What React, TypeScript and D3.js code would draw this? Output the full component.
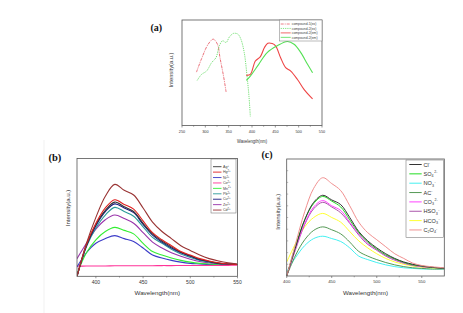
import React from "react";
import * as d3 from "d3";

// ---------- Panel (a) data ----------
const aTicks = [250, 300, 350, 400, 450, 500, 550];
const aC1exX = [281, 292, 306, 317, 326, 331.5, 339, 344.5];
const aC1exY = [50.6, 63.4, 77, 81.8, 77, 64, 46.8, 31.8];
const aC2exX = [282.5, 291.8, 302.6, 313.5, 322.8, 330, 337, 344.5, 351.7, 360.3, 369.7, 376.2, 383.4, 389, 393.5, 396.4];
const aC2exY = [42.7, 48.4, 51.6, 59.6, 64.3, 75.5, 80.3, 78.7, 84, 87.3, 86.6, 81.8, 69, 48.4, 27.7, 8.6];
const aC2emRX = [387.7, 396.4, 407.2, 418, 426.7, 433.9, 443.3, 450.5, 461.3, 472.1, 483, 497.4, 511.8, 529.8];
const aC2emRY = [47.5, 48.4, 61.1, 65.3, 73.9, 78, 77.7, 75.5, 64.3, 54.8, 51.6, 43.6, 34, 25.2];
const aC2emGX = [387.7, 396.4, 414.4, 432.5, 454.1, 475.8, 490.2, 504.6, 519, 529.8];
const aC2emGY = [42.7, 46.8, 58, 69.1, 75.5, 79.6, 77, 69.1, 58, 50];
const aLegend = ["compound-1(ex)", "compound-2(ex)", "compound-2(em)", "compound-2(em)"];

// ---------- Panel (b) data ----------
const bTicks = [400, 450, 500, 550];
const bWave = [380, 390, 400, 410, 420, 430, 440, 450, 460, 470, 480, 490, 500, 510, 520, 530, 540, 550];
const bAg = [0, 26, 44, 56, 63, 59, 55, 45, 36, 30, 25, 20.5, 17.5, 14.5, 12.5, 11, 10.5, 10];
const bHg = [0, 27, 45, 58, 65, 61, 57, 47, 37, 31, 26, 21, 18, 15, 13, 11.5, 10.5, 10];
const bNi = [8, 20, 28, 32, 34.5, 32, 29.5, 24, 18, 15.5, 13.5, 12, 11, 10.5, 10, 10, 10, 10];
const bCo = [8.6, 8.7, 8.8, 8.8, 8.9, 8.9, 9, 9, 9, 9.1, 9.1, 9.2, 9.2, 9.2, 9.3, 9.3, 9.3, 9.4];
const bMn = [2, 20, 31, 38, 41.5, 39, 36, 28, 21, 18, 15.5, 13.5, 12, 11, 10.5, 10, 10, 10];
const bPb = [0, 25, 41, 52, 58.5, 55, 51, 42, 33, 28, 23, 19, 16, 13.5, 12, 11, 10.5, 10];
const bCu = [0, 26, 43, 55, 61.5, 58, 54, 44, 35, 29, 24, 20, 17, 14, 12.5, 11, 10.5, 10];
const bZn = [15, 28, 40, 48, 52, 49, 45, 37, 29, 24, 20, 17, 14.5, 12.5, 11.5, 10.5, 10, 10];
const bCd = [0, 28, 50, 68, 78, 73, 69, 58, 46, 38, 32, 26, 22, 18, 15, 13, 11.5, 10.5];
const bIons = ["Ag", "Hg", "Ni", "Co", "Mn", "Pb", "Cu", "Zn", "Cd"];
const bCharges = ["+", "2+", "2+", "2+", "2+", "2+", "2+", "2+", "2+"];

// ---------- Panel (c) data ----------
const cTicks = [400, 450, 500, 550];
const cWave = [400, 410, 420, 430, 440, 450, 460, 470, 480, 490, 500, 510, 520, 530, 540, 550, 560, 575];
const cCl = [0, 25, 48, 63, 69, 65, 61, 50, 38, 30, 24, 19, 15, 12, 10, 8.5, 7.5, 6.5];
const cSO4 = [0, 26, 48, 62, 68, 64, 59, 48, 37, 29, 23, 18, 14.5, 11.5, 9.5, 8.5, 7.5, 6.5];
const cNO3 = [4, 16, 26, 32, 34, 32, 29.5, 24, 17, 14, 11.5, 9.5, 8, 7, 6.5, 6, 6, 6];
const cAC = [0, 18, 31, 39, 42, 39.5, 36, 29, 21, 17, 14, 11.5, 9.5, 8, 7, 6.5, 6, 6];
const cCO3 = [0, 24, 45, 59, 64.5, 60, 56, 46, 36, 28, 22.5, 17.5, 14, 11, 9.5, 8, 7.5, 6.5];
const cHSO3 = [0, 23, 44, 57.5, 63, 59, 54, 45, 35, 27, 22, 17, 13.5, 11, 9, 8, 7.5, 6.5];
const cHCO3 = [12, 28, 42, 50, 53.5, 50, 46, 38, 30, 24, 19, 15, 12, 10, 8.5, 7.5, 7, 6.5];
const cC2O4 = [0, 28, 55, 75, 84, 79, 73, 60, 46, 37, 31, 25, 19, 15, 11, 9, 8, 7];
// [base, subscript, superscript]
const cAnions: [string, string, string][] = [
  ["Cl", "", "-"], ["SO", "4", "2-"], ["NO", "3", "-"], ["AC", "", "-"],
  ["CO", "3", "2-"], ["HSO", "3", "-"], ["HCO", "3", "-"], ["C", "2", ""],
];

const SANS = "'Liberation Sans', Arial, sans-serif";
const SERIF = "'Liberation Serif', 'Times New Roman', serif";

type Series = { xs: number[]; ys: number[]; color: string; width: number; dash?: string };

function Panel(props: {
  x0: number; x1: number; y0: number; y1: number;
  domain: [number, number]; ticks: number[]; minor: number[];
  series: Series[]; tickFont: number; xLabel: { y: number; len: number; font: number };
  yLabel: { x: number; cy: number; len: number; font: number };
  title: { text: string; x: number; y: number; font: number };
  yTicks?: number[];
  children?: React.ReactNode;
}) {
  const { x0, x1, y0, y1, domain, ticks, minor, series } = props;
  const x = d3.scaleLinear().domain(domain).range([x0, x1]);
  const y = d3.scaleLinear().domain([0, 100]).range([y1, y0]);
  const line = d3.line<[number, number]>()
    .x((d) => x(d[0]))
    .y((d) => y(d[1]))
    .curve(d3.curveCatmullRom.alpha(0.5));
  const id = "clip" + props.title.text.replace(/[()]/g, "");
  return (
    <g>
      <defs>
        <clipPath id={id}>
          <rect x={x0} y={y0} width={x1 - x0} height={y1 - y0} />
        </clipPath>
      </defs>
      <g clipPath={`url(#${id})`}>
        {series.map((s, i) => (
          <path key={i} d={line(s.xs.map((v, j) => [v, s.ys[j]]) as [number, number][]) || ""}
            fill="none" stroke={s.color} strokeWidth={s.width} strokeDasharray={s.dash}
            strokeLinejoin="round" />
        ))}
      </g>
      <rect x={x0} y={y0} width={x1 - x0} height={y1 - y0} fill="none" stroke="#555" strokeWidth={0.8} />
      {ticks.map((t) => (
        <g key={"t" + t}>
          <line x1={x(t)} x2={x(t)} y1={y1} y2={y1 + 2} stroke="#555" strokeWidth={0.6} />
          <text x={x(t)} y={y1 + 4 + props.tickFont * 0.8} fontSize={props.tickFont} fontFamily={SANS}
            textAnchor="middle" fill="#333">{t}</text>
        </g>
      ))}
      {minor.map((t) => (
        <line key={"m" + t} x1={x(t)} x2={x(t)} y1={y1} y2={y1 + 1.3} stroke="#555" strokeWidth={0.5} />
      ))}
      {(props.yTicks || []).map((t) => (
        <line key={"y" + t} x1={x0} x2={x0 + 1.5} y1={y(t)} y2={y(t)} stroke="#777" strokeWidth={0.5} />
      ))}
      <text x={(x0 + x1) / 2} y={props.xLabel.y} fontSize={props.xLabel.font} fontFamily={SANS}
        textAnchor="middle" fill="#333" textLength={props.xLabel.len} lengthAdjust="spacingAndGlyphs">
        Wavelength(nm)
      </text>
      <text transform={`translate(${props.yLabel.x},${props.yLabel.cy}) rotate(-90)`}
        fontSize={props.yLabel.font} fontFamily={SANS} textAnchor="middle" fill="#333"
        textLength={props.yLabel.len} lengthAdjust="spacingAndGlyphs">
        Intensity(a.u.)
      </text>
      <text x={props.title.x} y={props.title.y} fontSize={props.title.font} fontFamily={SERIF}
        fontWeight="bold" fill="#111">{props.title.text}</text>
      {props.children}
    </g>
  );
}

export default function App() {
  const aSeries: Series[] = [
    { xs: aC1exX, ys: aC1exY, color: "#e8606a", width: 0.9, dash: "3,1,1,1" },
    { xs: aC2exX, ys: aC2exY, color: "#66dd66", width: 0.9, dash: "1.2,1" },
    { xs: aC2emRX, ys: aC2emRY, color: "#ee4444", width: 1.1 },
    { xs: aC2emGX, ys: aC2emGY, color: "#55e055", width: 1.1 },
  ];
  const aLegendStyle = aSeries;

  const bColors = ["#333333", "#e02020", "#3b3bc8", "#ff3399", "#33ee33", "#2a9a9a", "#1a1a80", "#9933aa", "#993333"];
  const bData = [bAg, bHg, bNi, bCo, bMn, bPb, bCu, bZn, bCd];
  const bSeries: Series[] = bData.map((ys, i) => ({ xs: bWave, ys, color: bColors[i], width: 1.1 }));
  const bDrawOrder = [3, 2, 4, 7, 5, 6, 0, 1, 8];

  const cColors = ["#333333", "#22dd22", "#44f0f0", "#559955", "#ff44ff", "#aa55aa", "#ffff33", "#f09090"];
  const cData = [cCl, cSO4, cNO3, cAC, cCO3, cHSO3, cHCO3, cC2O4];
  const cSeries: Series[] = cData.map((ys, i) => ({ xs: cWave, ys, color: cColors[i], width: 1 }));
  const cDrawOrder = [2, 3, 6, 5, 4, 1, 0, 7];

  return (
    <svg width={463} height={313} style={{ position: "absolute", left: 0, top: 0, background: "#fff" }}>
      <rect x={0} y={0} width={463} height={313} fill="#fff" />
      <line x1={44} x2={44} y1={140} y2={313} stroke="#eee" strokeWidth={0.8} />

      {/* Panel (a) */}
      <Panel x0={182} x1={322} y0={20} y1={125.5} domain={[250, 550]} ticks={aTicks}
        minor={[275, 325, 375, 425, 475, 525]} series={aSeries} tickFont={3.8}
        xLabel={{ y: 142.5, len: 30, font: 4.6 }}
        yLabel={{ x: 172.5, cy: 70, len: 35, font: 4.8 }}
        title={{ text: "(a)", x: 150.5, y: 31, font: 10 }}>
        <rect x={279.3} y={20} width={42.7} height={21} fill="#fff" stroke="#777" strokeWidth={0.5} />
        {aLegend.map((t, i) => (
          <g key={i}>
            <line x1={280.7} x2={290.7} y1={24 + i * 4.45} y2={24 + i * 4.45}
              stroke={aLegendStyle[i].color} strokeWidth={0.8} strokeDasharray={aLegendStyle[i].dash} />
            <text x={291.7} y={24 + i * 4.45 + 1.2} fontSize={3.4} fontFamily={SANS} fill="#444">{t}</text>
          </g>
        ))}
      </Panel>

      {/* Panel (b) */}
      <Panel x0={77} x1={237.5} y0={158.5} y1={276.3} domain={[380, 550]} ticks={bTicks}
        minor={[425, 475, 525]} series={bDrawOrder.map((i) => bSeries[i])} tickFont={5}
        xLabel={{ y: 295, len: 45.5, font: 6.2 }}
        yLabel={{ x: 70, cy: 208, len: 36.5, font: 5.6 }}
        title={{ text: "(b)", x: 48.5, y: 161, font: 10.5 }}>
        <rect x={211} y={159} width={25} height={54} fill="#fff" stroke="#666" strokeWidth={0.5} />
        {bIons.map((t, i) => (
          <g key={i}>
            <line x1={213} x2={221.5} y1={166.7 + i * 5.42} y2={166.7 + i * 5.42}
              stroke={bColors[i]} strokeWidth={0.9} />
            <text x={223} y={166.7 + i * 5.42 + 1.2} fontSize={3.6} fontFamily={SANS} fill="#444">
              {t}<tspan dy={-1.2} fontSize={2.6}>{bCharges[i]}</tspan>
            </text>
          </g>
        ))}
      </Panel>

      {/* Panel (c) */}
      <Panel x0={286.7} x1={444.3} y0={159} y1={276} domain={[400, 575]} ticks={cTicks}
        minor={[425, 475, 525]} series={cDrawOrder.map((i) => cSeries[i])} tickFont={4.3}
        xLabel={{ y: 295, len: 45, font: 6.2 }}
        yLabel={{ x: 279.5, cy: 211.7, len: 36, font: 5.6 }}
        yTicks={[10, 20, 30, 40, 50, 60, 70, 80, 90]}
        title={{ text: "(c)", x: 261.5, y: 157.5, font: 10 }}>
        <rect x={406} y={160} width={37.3} height={77.3} fill="#fff" stroke="#666" strokeWidth={0.5} />
        {cAnions.map((a, i) => (
          <g key={i}>
            <line x1={409.3} x2={421.7} y1={164.5 + i * 9.35} y2={164.5 + i * 9.35}
              stroke={cColors[i]} strokeWidth={1} />
            <text x={423.5} y={164.5 + i * 9.35 + 2} fontSize={5.6} fontFamily={SANS} fill="#333">
              {a[0]}
              {a[1] ? <tspan dy={1.3} fontSize={3.6}>{a[1]}</tspan> : null}
              {a[0] === "C" ? <><tspan dy={-1.3}>O</tspan><tspan dy={1.3} fontSize={3.6}>4</tspan><tspan dy={-3.2} fontSize={3.6}>-</tspan></> : null}
              {a[2] && a[0] !== "C" ? <tspan dy={a[1] ? -3.8 : -2.5} fontSize={3.6} dx={a[1] ? 0.6 : 0}>{a[2]}</tspan> : null}
            </text>
          </g>
        ))}
      </Panel>
    </svg>
  );
}
